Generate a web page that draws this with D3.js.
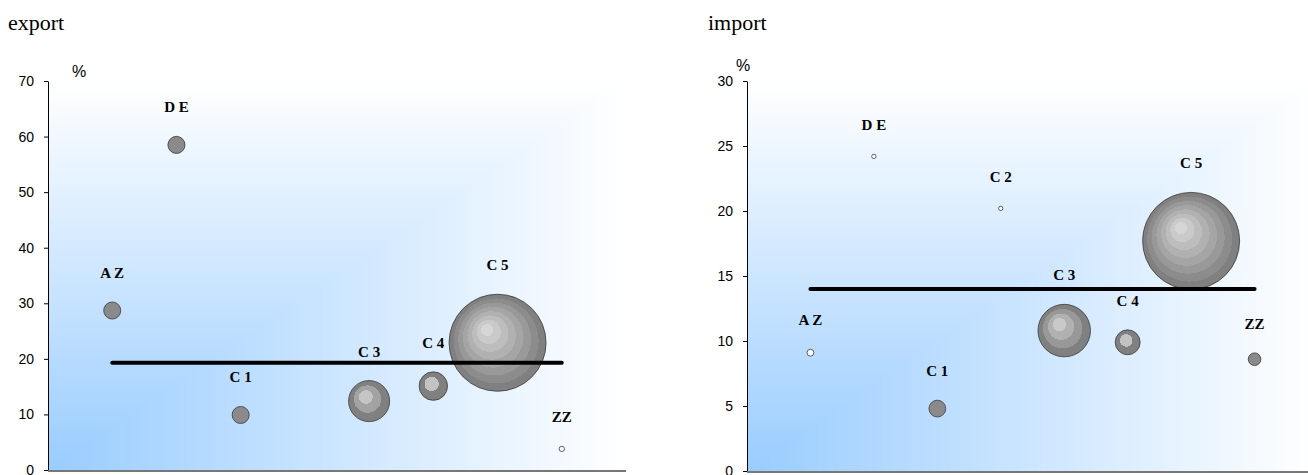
<!DOCTYPE html>
<html>
<head>
<meta charset="utf-8">
<script src="https://cdn.jsdelivr.net/npm/d3@7"></script>
<style>
  body { margin: 0; background: #fff; }
  svg { display: block; }
  .tick text { font-family: "Liberation Sans", Arial, sans-serif; font-size: 14px; fill: #000; }
  .tick line, .domain { stroke: #000; }
</style>
</head>
<body>
<svg id="chart" width="1308" height="475"></svg>
<script>
// categories (same order on both charts)
var categories = ["A Z", "D E", "C 1", "C 2", "C 3", "C 4", "C 5", "ZZ"];

// export: share in %, bubble size (relative), average line
var exportShare = [28.7, 58.5, 9.9, null, 12.4, 15.1, 22.9, 3.8];
var exportSize = [3.1, 3.1, 3.1, null, 17.9, 8.6, 100, 0.3];
var exportAverage = 19.3;
var exportTicks = [0, 10, 20, 30, 40, 50, 60, 70];

// import
var importShare = [9.1, 24.2, 4.8, 20.2, 10.8, 9.9, 17.7, 8.6];
var importSize = [0.5, 0.2, 3.0, 0.2, 29.3, 6.6, 100, 1.7];
var importAverage = 14.0;
var importTicks = [0, 5, 10, 15, 20, 25, 30];

var svg = d3.select("#chart");
var defs = svg.append("defs");
var gradId = 0;

var size = d3.scaleSqrt().domain([0, 100]).range([0, 48.5]);

// banded grey ball, roughly one band every 6px of radius
function ballFill(r) {
  if (r < 5) return "#fff";
  if (r < 10) return "#8a8a8a";
  var n = Math.max(2, Math.round(r / 6));
  // small balls do not get as bright in the middle
  var light = d3.interpolateRgb("#c2c2c2", "#d6d6d6")(Math.min(1, (n - 2) / 6));
  var col = d3.interpolateRgb("#808080", light);
  var id = "ball" + (gradId++);
  var grad = defs.append("radialGradient")
    .attr("id", id)
    .attr("cx", 0.5).attr("cy", 0.5).attr("r", 0.5)
    .attr("fx", 0.38).attr("fy", 0.35);
  // stops go from focal point (light) outwards (dark)
  d3.range(n).forEach(function(k) {
    var c = col(1 - k / (n - 1));
    grad.append("stop").attr("offset", k / n).attr("stop-color", c);
    grad.append("stop").attr("offset", (k + 1) / n).attr("stop-color", c);
  });
  return "url(#" + id + ")";
}

drawPanel({
  title: "export", titleX: 8,
  left: 48, right: 626, bottom: 470, top: 81,
  max: 70, ticks: exportTicks, pctX: 79, pctY: 77,
  share: exportShare, sizes: exportSize, average: exportAverage
});

drawPanel({
  title: "import", titleX: 708,
  left: 747, right: 1318, bottom: 471, top: 81,
  max: 30, ticks: importTicks, pctX: 743, pctY: 71,
  share: importShare, sizes: importSize, average: importAverage
});

function drawPanel(p) {
  var g = svg.append("g");

  var x = d3.scaleLinear().domain([0, categories.length + 1]).range([p.left, p.right]);
  var y = d3.scaleLinear().domain([0, p.max]).range([p.bottom, p.top]);

  // corner gradient background: blue bottom-left fading to white at top / right
  var w = p.right - p.left, h = p.bottom - p.top;
  var bg = d3.interpolateRgb("#99ccff", "#ffffff");
  var steps = d3.range(120, 0, -1).map(function(i) { return i / 120; });
  g.append("g").selectAll("rect")
    .data(steps)
    .join("rect")
      .attr("x", p.left)
      .attr("y", function(t) { return p.bottom - t * h; })
      .attr("width", function(t) { return t * w; })
      .attr("height", function(t) { return t * h; })
      .attr("fill", function(t) { return bg(t); });

  // title + unit
  g.append("text")
    .attr("x", p.titleX).attr("y", 30)
    .style("font-family", "'Liberation Serif', 'Times New Roman', serif")
    .style("font-size", "22px")
    .text(p.title);
  g.append("text")
    .attr("x", p.pctX).attr("y", p.pctY)
    .attr("text-anchor", "middle")
    .style("font-family", "'Liberation Sans', Arial, sans-serif")
    .style("font-size", "16px")
    .text("%");

  // axes
  g.append("g")
    .attr("transform", "translate(" + p.left + ",0)")
    .call(d3.axisLeft(y).tickValues(p.ticks).tickSize(4).tickSizeOuter(0).tickPadding(10));
  g.append("line")
    .attr("x1", p.left).attr("x2", p.right)
    .attr("y1", p.bottom + 1).attr("y2", p.bottom + 1)
    .attr("stroke", "#777").attr("stroke-width", 2);

  var pts = categories.map(function(c, i) {
    return {name: c, x: x(i + 1), v: p.share[i], r: p.sizes[i] == null ? 0 : size(p.sizes[i])};
  }).filter(function(d) { return d.v != null; });

  // bubbles
  g.append("g").selectAll("circle")
    .data(pts)
    .join("circle")
      .attr("cx", function(d) { return d.x; })
      .attr("cy", function(d) { return y(d.v); })
      .attr("r", function(d) { return d.r; })
      .attr("fill", function(d) { return ballFill(d.r); })
      .attr("stroke", "#3a3a3a")
      .attr("stroke-width", 0.8);

  // average line across the categories
  g.append("line")
    .attr("x1", x(1)).attr("x2", x(categories.length))
    .attr("y1", y(p.average)).attr("y2", y(p.average))
    .attr("stroke", "#000").attr("stroke-width", 4)
    .attr("stroke-linecap", "round");

  // labels above each bubble
  g.append("g").selectAll("text")
    .data(pts)
    .join("text")
      .attr("x", function(d) { return d.x; })
      .attr("y", function(d) { return y(d.v) - d.r - 24; })
      .attr("text-anchor", "middle")
      .style("font-family", "'Liberation Serif', 'Times New Roman', serif")
      .style("font-weight", "bold")
      .style("font-size", "15px")
      .text(function(d) { return d.name; });
}
</script>
</body>
</html>
